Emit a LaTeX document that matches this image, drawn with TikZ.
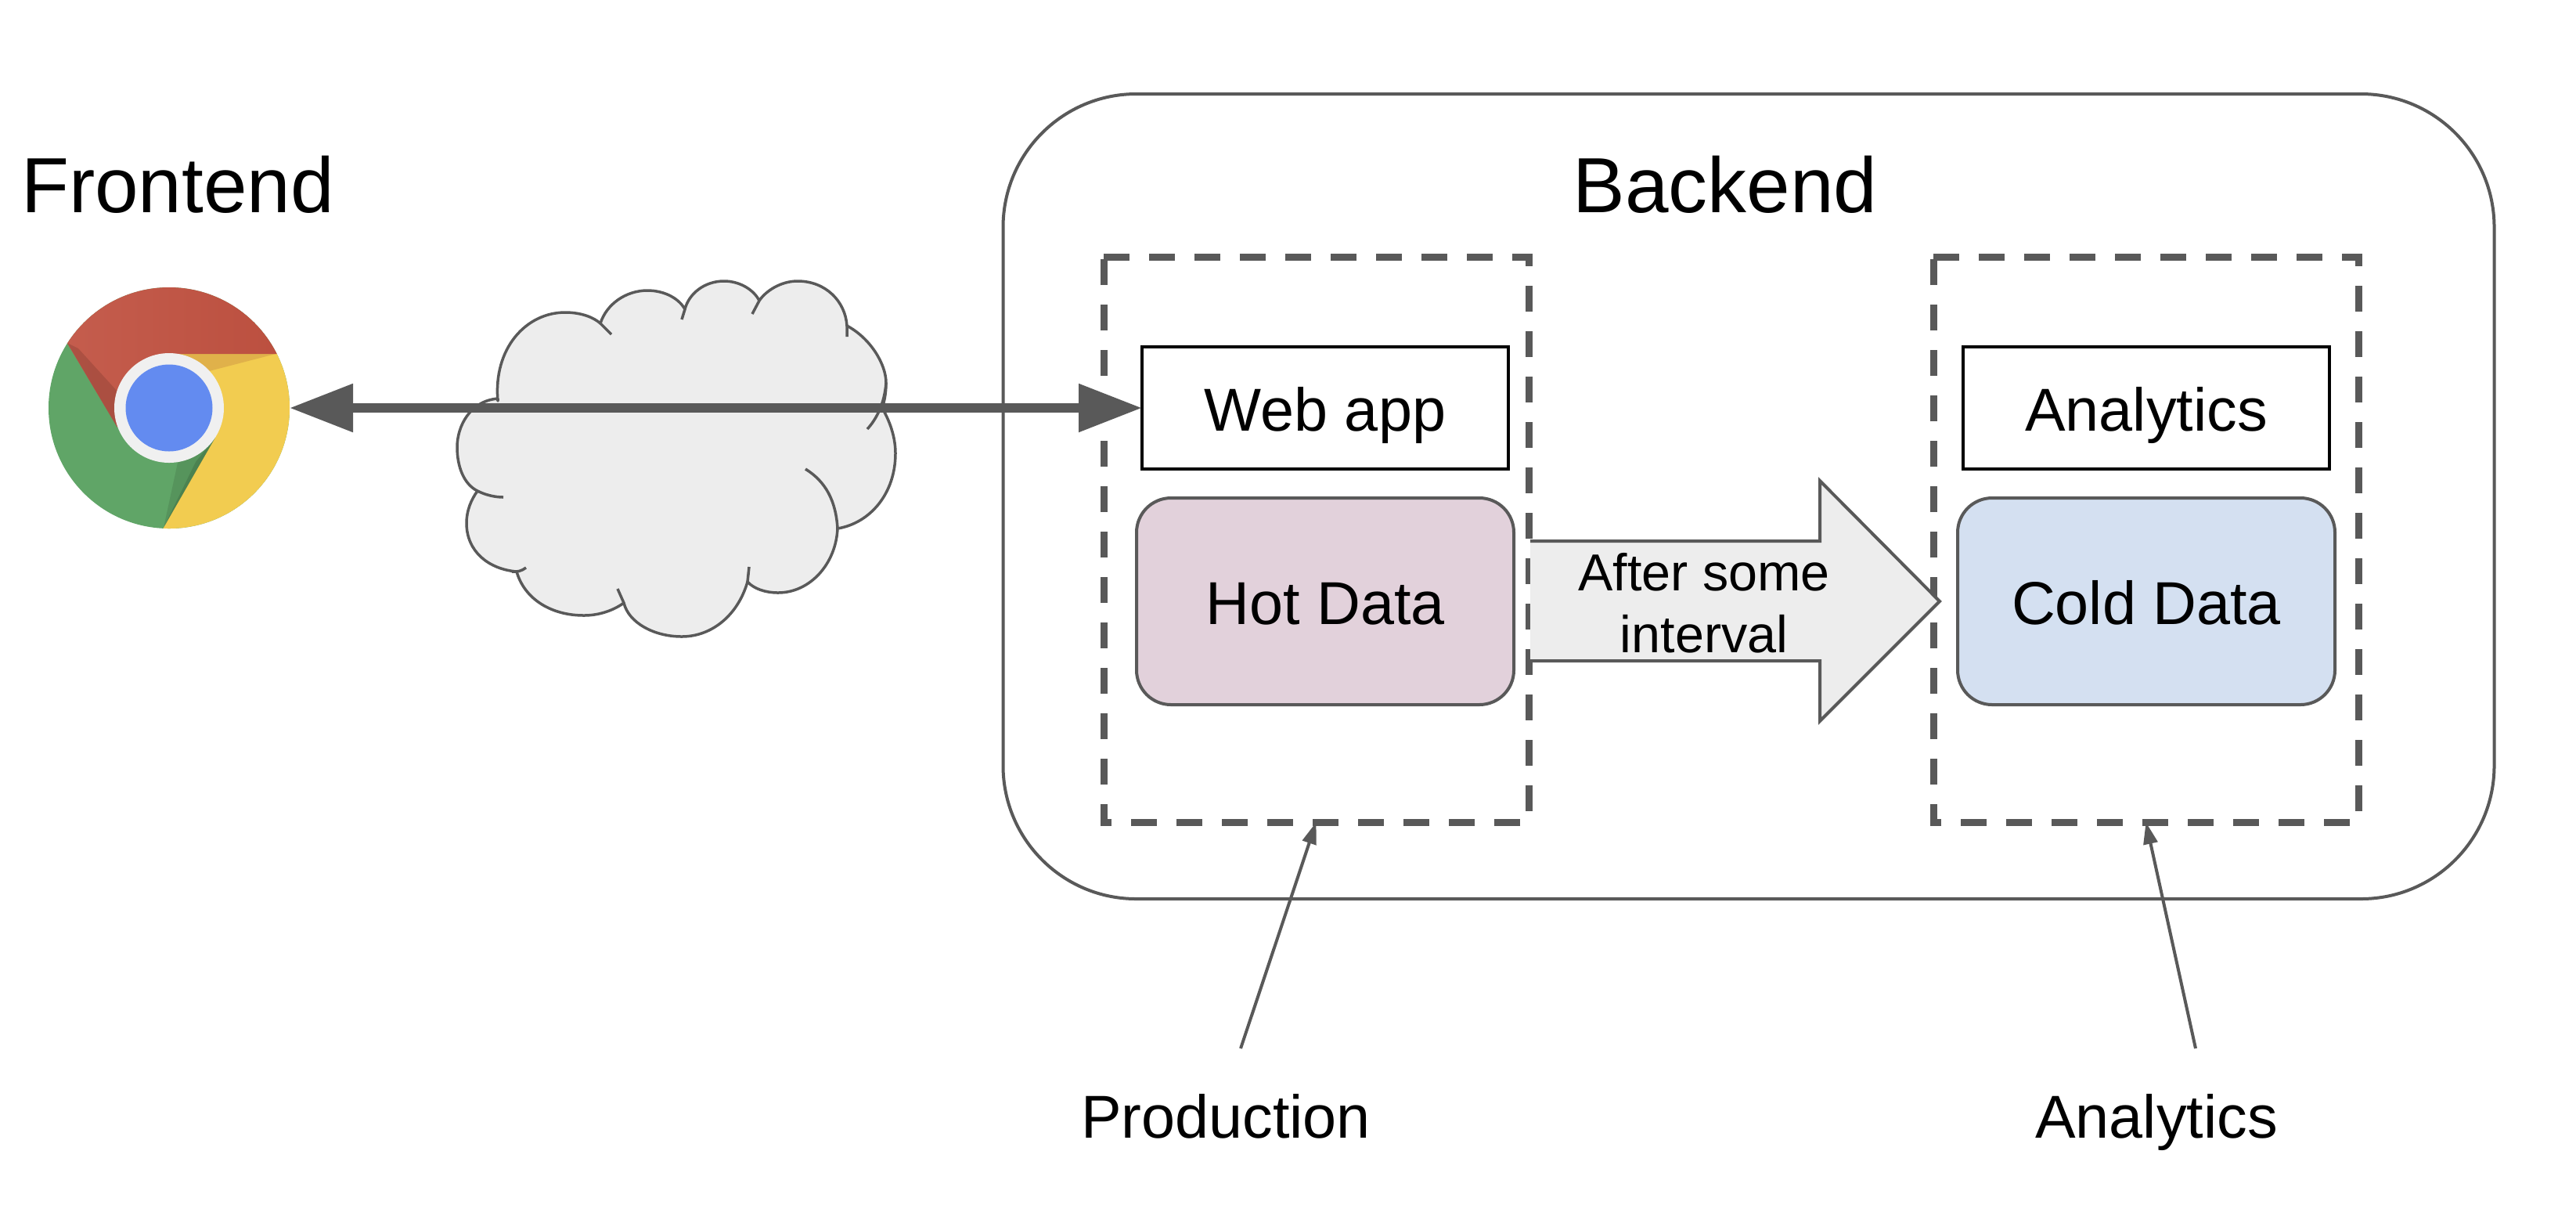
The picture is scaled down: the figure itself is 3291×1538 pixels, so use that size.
\documentclass[tikz,border=0pt]{standalone}
\usepackage{fontspec}
\setmainfont{Liberation Sans}
\usetikzlibrary{arrows.meta}
\definecolor{lineGray}{HTML}{595959}
\definecolor{fillGray}{HTML}{EDEDED}
\definecolor{hotFill}{HTML}{E2D1DB}
\definecolor{coldFill}{HTML}{D4E0F1}
\definecolor{chromeRed}{HTML}{C0503F}
\definecolor{chromeYellow}{HTML}{F2CC50}
\definecolor{chromeGreen}{HTML}{60A567}
\definecolor{chromeBlue}{HTML}{638BF0}
\newcommand{\pxUnit}{0.01cm}
\newcommand{\titleFont}{\fontsize{28.4}{33}\selectfont}
\newcommand{\boxFont}{\fontsize{22}{26}\selectfont}
\newcommand{\arrowFont}{\fontsize{18.9}{22.6}\selectfont}
\tikzset{
  thinline/.style={draw=lineGray,line width=4*\pxUnit},
  group/.style={thinline,rounded corners=1.7cm,minimum width=1905*\pxUnit,minimum height=1028*\pxUnit,outer sep=0pt},
  dashbox/.style={minimum width=543*\pxUnit,minimum height=722*\pxUnit,outer sep=0pt},
  dashline/.style={draw=lineGray,line width=9*\pxUnit,dash pattern=on 33*\pxUnit off 25*\pxUnit},
  appbox/.style={draw=black,line width=4*\pxUnit,minimum width=468*\pxUnit,minimum height=156*\pxUnit,font=\boxFont,text height=20.7pt,text depth=4.2pt,outer sep=0pt},
  databox/.style={thinline,rounded corners=.44cm,minimum width=482*\pxUnit,minimum height=264*\pxUnit,font=\boxFont,text height=20.7pt,text depth=4.2pt,outer sep=0pt},
  title/.style={font=\titleFont,anchor=base,inner sep=0pt},
  caption/.style={font=\boxFont,anchor=base,inner sep=0pt},
  pointer/.style={draw=lineGray,line width=4*\pxUnit,-{Triangle[length=28*\pxUnit,width=18*\pxUnit]}},
  link/.style={draw=lineGray,line width=12*\pxUnit,{Triangle[length=81*\pxUnit,width=59*\pxUnit]}-{Triangle[length=81*\pxUnit,width=59*\pxUnit]}}
}
\begin{document}
\begin{tikzpicture}[x=\pxUnit,y=-\pxUnit]
\useasboundingbox (0,0) rectangle (3291,1538);

\node[group] (backend) at (2234,634) {};
\node[title] (frontendtitle) at (227,271) {Frontend};
\node[title] (backendtitle) at (2204,271) {Backend};

% chrome logo
\begin{scope}
\clip (216,521) circle [radius=154];
\fill[chromeGreen] (50,350) rectangle (400,700);
\fill[chromeYellow] (216,452) -- (400,452) -- (400,700) -- (194,700) -- (275,559) -- cycle;
\shade[left color=chromeRed!92!white,right color=chromeRed!97!black] (150,546) -- (60,395) -- (60,350) -- (400,350) -- (400,452) -- (216,452) -- cycle;
\fill[black,opacity=.12] (86,438) -- (150,546) -- (150,500) -- (100,445) -- cycle;
\fill[brown,opacity=.35] (216,452) -- (352,452) -- (267,474) -- (240,470) -- cycle;
\fill[black,opacity=.1] (209,674) -- (275,559) -- (227,591) -- cycle;
\fill[black,opacity=.12] (209,674) -- (275,559) -- (250,590) -- cycle;
\end{scope}
\node[circle,fill=white!94!black,minimum size=140*\pxUnit,inner sep=0pt] (chromering) at (216,521) {};
\node[circle,fill=chromeBlue,minimum size=111*\pxUnit,inner sep=0pt] (chromeeye) at (216,521) {};
\node[circle,minimum size=308*\pxUnit,inner sep=0pt,outer sep=0pt] (chrome) at (216,521) {};

% cloud
\filldraw[fill=fillGray,thinline,line width=3.5*\pxUnit,line join=round]
  (636,512) .. controls (630,445) and (672,399) .. (722,399)
  .. controls (742,399) and (758,405) .. (767,413)
  .. controls (775,388) and (800,371) .. (827,371)
  .. controls (850,371) and (868,382) .. (875,395)
  .. controls (880,375) and (900,359) .. (925,359)
  .. controls (945,359) and (963,370) .. (970,384)
  .. controls (978,372) and (997,359) .. (1019,359)
  .. controls (1055,359) and (1080,385) .. (1082,416)
  .. controls (1112,432) and (1132,465) .. (1132,489)
  .. controls (1132,502) and (1130,512) .. (1127,521)
  .. controls (1138,540) and (1144,560) .. (1144,579)
  .. controls (1144,630) and (1112,668) .. (1070,675)
  .. controls (1068,720) and (1035,757) .. (994,757)
  .. controls (978,757) and (963,752) .. (955,743)
  .. controls (943,785) and (910,813) .. (871,813)
  .. controls (835,813) and (803,795) .. (797,770)
  .. controls (783,780) and (765,786) .. (746,786)
  .. controls (704,786) and (670,765) .. (660,730)
  .. controls (625,727) and (596,705) .. (596,668)
  .. controls (596,652) and (602,638) .. (610,627)
  .. controls (592,618) and (584,595) .. (584,571)
  .. controls (584,545) and (600,512) .. (636,509) -- cycle;
\draw[thinline,line width=3.5*\pxUnit]
  (767,413) -- (781,427)
  (875,395) -- (871,408)
  (970,384) -- (961,401)
  (1082,416) -- (1082,430)
  (1132,489) .. controls (1130,515) and (1120,535) .. (1108,548)
  (1070,675) .. controls (1068,640) and (1055,615) .. (1029,599)
  (955,743) -- (957,724)
  (789,752) -- (797,770)
  (654,730) .. controls (660,731) and (667,729) .. (672,725)
  (610,627) .. controls (620,632) and (632,635) .. (643,635);

% production and analytics groups
\node[dashbox] (production) at (1681.5,689) {};
\node[dashbox] (analyticsgroup) at (2741.5,689) {};
\draw[dashline] (production.north west) -- (production.north east) -- (production.south east) -- (production.south west) -- cycle;
\draw[dashline] (analyticsgroup.north west) -- (analyticsgroup.north east) -- (analyticsgroup.south east) -- (analyticsgroup.south west) -- cycle;
\node[appbox] (webapp) at (1693,521) {Web app};
\node[appbox] (analyticsapp) at (2742,521) {Analytics};
\node[databox,fill=hotFill] (hotdata) at (1693,768) {Hot Data};
\node[databox,fill=coldFill] (colddata) at (2742,768) {Cold Data};

\filldraw[fill=fillGray,thinline,line join=miter] (1955,691) -- (2325,691) -- (2325,614) -- (2478,768) -- (2325,921) -- (2325,844) -- (1955,844);
\node[font=\arrowFont,align=center,inner sep=0pt] (aftertext) at (2177,770) {After some\\interval};

\draw[link] (chrome) -- (webapp);

\coordinate (productiontail) at (1585,1339);
\coordinate (analyticstail) at (2805,1339);
\draw[pointer] (productiontail) -- (production.south);
\draw[pointer] (analyticstail) -- (analyticsgroup.south);
\node[caption] (productionlabel) at (1566,1453) {Production};
\node[caption] (analyticslabel) at (2755,1453) {Analytics};
\end{tikzpicture}
\end{document}
